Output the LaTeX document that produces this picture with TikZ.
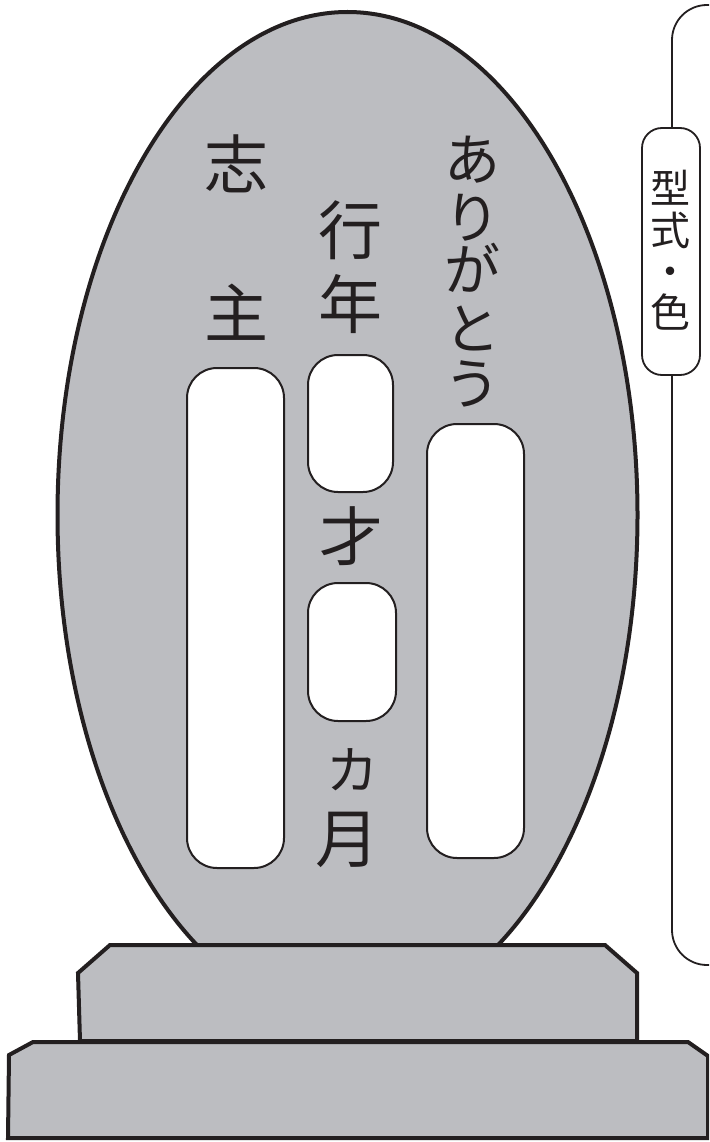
\documentclass[tikz,border=0pt]{standalone}
\usepackage{fontspec}
\newfontfamily\jp{Noto Sans CJK JP}
\definecolor{stone}{RGB}{188,189,193}
\definecolor{ink}{RGB}{35,31,32}
\begin{document}
\begin{tikzpicture}[x=1pt,y=-1pt,
  outline/.style={draw=ink,line width=4pt,fill=stone,line join=miter},
  slot/.style={draw=ink,line width=2pt,fill=white,rounded corners=30pt,inner sep=0pt},
  big/.style={font=\jp\fontsize{64}{64}\selectfont,text=ink,inner sep=0pt},
  kana/.style={font=\jp\fontsize{56}{56}\selectfont,text=ink,inner sep=0pt},
  small/.style={font=\jp\fontsize{40}{41.3}\selectfont,text=ink,inner sep=0pt,align=center},
  panel/.style={draw=ink,line width=1.8pt}]
\useasboundingbox (0,0) rectangle (709,1142);
\clip (0,0) rectangle (709,1142);
% right panel
\draw[panel,rounded corners=35pt] (740,5) -- (672,5) -- (672,965) -- (740,965);
\node[panel,fill=white,rounded corners=20pt,minimum width=58pt,minimum height=247pt,inner sep=0pt] (tag) at (671,251.5) {};
\node[small] (tagtext) at (670,250.5) {型\\式\\・\\色};
% stone
\path[outline] (347.5,515) ellipse [x radius=290pt, y radius=503pt];
% base
\path[outline] (110,945) -- (605,945) -- (637,973) -- (637,1041) -- (80,1041) -- (78,973) -- cycle;
\path[outline] (33,1042) -- (688,1042) -- (708,1056) -- (708,1138) -- (8,1138) -- (9,1055) -- cycle;
% slots
\node[slot,minimum width=97pt,minimum height=500pt] (sL) at (235.5,618) {};
\node[slot,minimum width=97pt,minimum height=434pt] (sR) at (475.5,641) {};
\node[slot,minimum width=85pt,minimum height=137pt] (sM1) at (350.5,423.5) {};
\node[slot,minimum width=88pt,minimum height=138pt] (sM2) at (352,652) {};
% texts
\node[big] (c1) at (236,164) {志};
\node[big] (c2) at (236,312) {主};
\node[big] (g1) at (350,230) {行};
\node[big] (g2) at (350,304) {年};
\node[big] (sai) at (351,536) {才};
\node[kana,font=\jp\fontsize{52}{52}\selectfont] (ka) at (352,770) {カ};
\node[big] (tsuki) at (347,840) {月};
\node[kana] (a1) at (472,160) {あ};
\node[kana] (a2) at (472,218) {り};
\node[kana] (a3) at (472,268) {が};
\node[kana] (a4) at (472,328) {と};
\node[kana] (a5) at (472,384) {う};
\end{tikzpicture}
\end{document}
